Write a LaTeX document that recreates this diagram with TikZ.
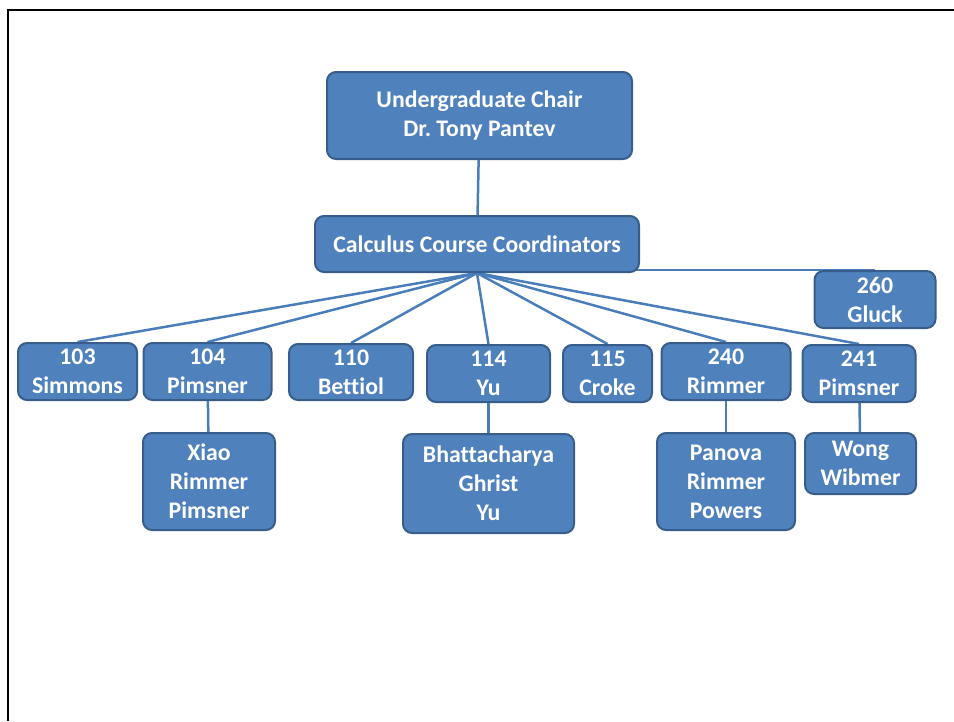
\documentclass[tikz,border=0pt]{standalone}
\usepackage{fontspec}
\setmainfont{Carlito}[Ligatures=NoCommon]
\usetikzlibrary{backgrounds}

\definecolor{boxfill}{HTML}{4F81BD}
\definecolor{boxedge}{HTML}{385D8A}
\definecolor{linkblue}{HTML}{4A7EBB}

\begin{document}
\begin{tikzpicture}[x=1pt, y=-1pt,
    box/.style={draw=boxedge, fill=boxfill, line width=2pt, rounded corners=9pt,
      inner sep=0pt, align=center, text=white,
      font=\fontsize{23.8}{29}\selectfont\bfseries\frenchspacing},
    link/.style={draw=linkblue, line width=2.5pt}]
      \useasboundingbox (0,0) rectangle (954,721);
      \draw[line width=2pt] (954,10) -| (8,721);
      % top of the tree
      \node[box, minimum width=305pt, minimum height=87pt] (chair) at (479.5,115.5) {Undergraduate Chair\\Dr. Tony Pantev};
      \node[box, minimum width=324pt, minimum height=56pt] (coord) at (477,244) {Calculus Course Coordinators};
      \node[box, minimum width=121pt, minimum height=57pt] (g260) at (875,299.5) {260\\Gluck};
      % course row
      \node[box, minimum width=119pt, minimum height=57pt] (c103) at (77.5,371.5) {103\\Simmons};
      \node[box, minimum width=128pt, minimum height=57pt] (c104) at (207.5,371.5) {104\\Pimsner};
      \node[box, minimum width=124pt, minimum height=56pt] (c110) at (351,372) {110\\Bettiol};
      \node[box, minimum width=123pt, minimum height=57pt] (c114) at (488.5,373.5) {114\\Yu};
      \node[box, minimum width=89pt, minimum height=57pt] (c115) at (607.5,373.5) {115\\Croke};
      \node[box, minimum width=129pt, minimum height=57pt] (c240) at (726,371.5) {240\\Rimmer};
      \node[box, minimum width=113pt, minimum height=57pt] (c241) at (859,373.5) {241\\Pimsner};
      % instructors
      \node[box, minimum width=132pt, minimum height=97pt] (s104) at (209,481.5) {Xiao\\Rimmer\\Pimsner};
      \node[box, minimum width=171pt, minimum height=99pt] (s114) at (488.5,483.5) {Bhattacharya\\Ghrist\\Yu};
      \node[box, minimum width=138pt, minimum height=97pt] (s240) at (726,481.5) {Panova\\Rimmer\\Powers};
      \node[box, minimum width=111pt, minimum height=61pt] (s241) at (860.5,463.5) {Wong\\Wibmer};
      \begin{scope}[on background layer]
        \draw[link] (chair) -- (coord);
        \draw[link] (coord) -- (coord |- g260.north) -- (g260.north);
        \foreach \c in {c103,c104,c110,c114,c115,c240,c241}
          \draw[link] (coord.south) -- (\c.north);
        \draw[link] (c104) -- (s104);
        \draw[link] (c114) -- (s114);
        \draw[link] (c240) -- (s240);
        \draw[link] (c241) -- (s241);
      \end{scope}
    \end{tikzpicture}
\end{document}
